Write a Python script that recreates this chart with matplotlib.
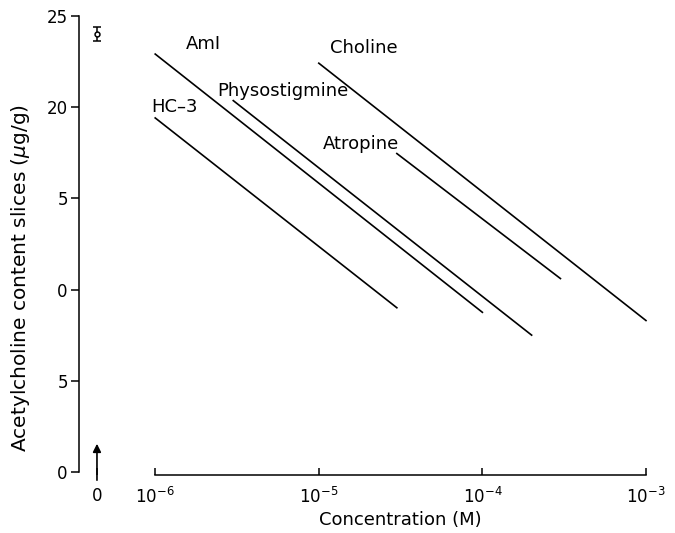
import numpy as np
import matplotlib
matplotlib.use("Agg")
import matplotlib.pyplot as plt
from matplotlib.transforms import ScaledTranslation

plt.rcParams['font.family'] = ['DejaVu Sans']
plt.rcParams['mathtext.fontset'] = 'dejavusans'

# regression lines: concentration (M) at both ends, ACh content (ug/g) at both ends
drugs = ['HC\u20133', 'AmI', 'Physostigmine', 'Choline', 'Atropine']
conc_start = [1e-6, 1e-6, 3e-6, 1e-5, 3e-5]
conc_end = [3e-5, 1e-4, 2e-4, 1e-3, 3e-4]
ach_start = [19.4, 22.9, 20.35, 22.4, 17.45]
ach_end = [9.0, 8.75, 7.5, 8.3, 10.6]

# label positions (conc, ach)
label_conc = [9.45e-7, 1.53e-6, 2.4e-6, 1.17e-5, 1.06e-5]
label_ach = [20.0, 23.45, 20.9, 23.25, 17.95]

# control (no drug)
ctrl_x = 10 ** -6.356
ctrl_mean = 24.0
ctrl_err = 0.4

xticks = [1e-6, 1e-5, 1e-4, 1e-3]
xticklabels = ['$10^{-6}$', '$10^{-5}$', '$10^{-4}$', '$10^{-3}$']
yticks = [0, 5, 10, 15, 20, 25]
yticklabels = ['0', '5', '0', '5', '20', '25']

fig = plt.figure(figsize=(6.75, 5.33), dpi=100)
ax = fig.add_axes([0.117, 0.1144, 0.840, 0.8561])

for i in range(len(drugs)):
    ax.plot([conc_start[i], conc_end[i]], [ach_start[i], ach_end[i]],
            color='black', lw=1.2, clip_on=False)
    ax.text(label_conc[i], label_ach[i], drugs[i], fontsize=13,
            ha='left', va='center')

ax.errorbar([ctrl_x], [ctrl_mean], yerr=[ctrl_err], fmt='o', mfc='white',
            mec='black', ecolor='black', ms=3.5, mew=1.1, capsize=3,
            elinewidth=1.1, clip_on=False)
ax.annotate('', xy=(ctrl_x, 1.7), xytext=(ctrl_x, -0.6),
            arrowprops=dict(arrowstyle='-|>', color='black', lw=1.2,
                            mutation_scale=12), annotation_clip=False)

ax.set_xscale('log')
ax.set_xlim(10 ** -6.466, 1e-3)
ax.set_ylim(0, 25)

ax.set_xticks([ctrl_x] + xticks, ['0'] + xticklabels)
ax.minorticks_off()
ax.xaxis.get_major_ticks()[0].tick1line.set_visible(False)
ax.tick_params(axis='x', direction='in', length=5, width=1.1, pad=9,
               labelsize=12)
# centre the "10" under each tick, exponent sticking out to the right
shift = ScaledTranslation(7 / 100, 0, fig.dpi_scale_trans)
for lab in ax.get_xticklabels()[1:]:
    lab.set_transform(lab.get_transform() + shift)

ax.set_yticks(yticks, yticklabels)
ax.tick_params(axis='y', direction='out', length=6, width=1.1, pad=2,
               labelsize=12)

for s in ['top', 'right']:
    ax.spines[s].set_visible(False)
ax.spines['left'].set_linewidth(1.1)
ax.spines['bottom'].set_linewidth(1.1)
ax.spines['bottom'].set_bounds(1e-6, 1e-3)
ax.spines['bottom'].set_position(('outward', 2))

ax.set_xlabel('Concentration (M)', fontsize=13)
ax.xaxis.set_label_coords(0.566, -0.085)
ax.set_ylabel('Acetylcholine content slices ($\\mu$g/g)', fontsize=14.5)
ax.yaxis.set_label_coords(-0.083, 0.425)

fig.savefig('out.png', dpi=100)
